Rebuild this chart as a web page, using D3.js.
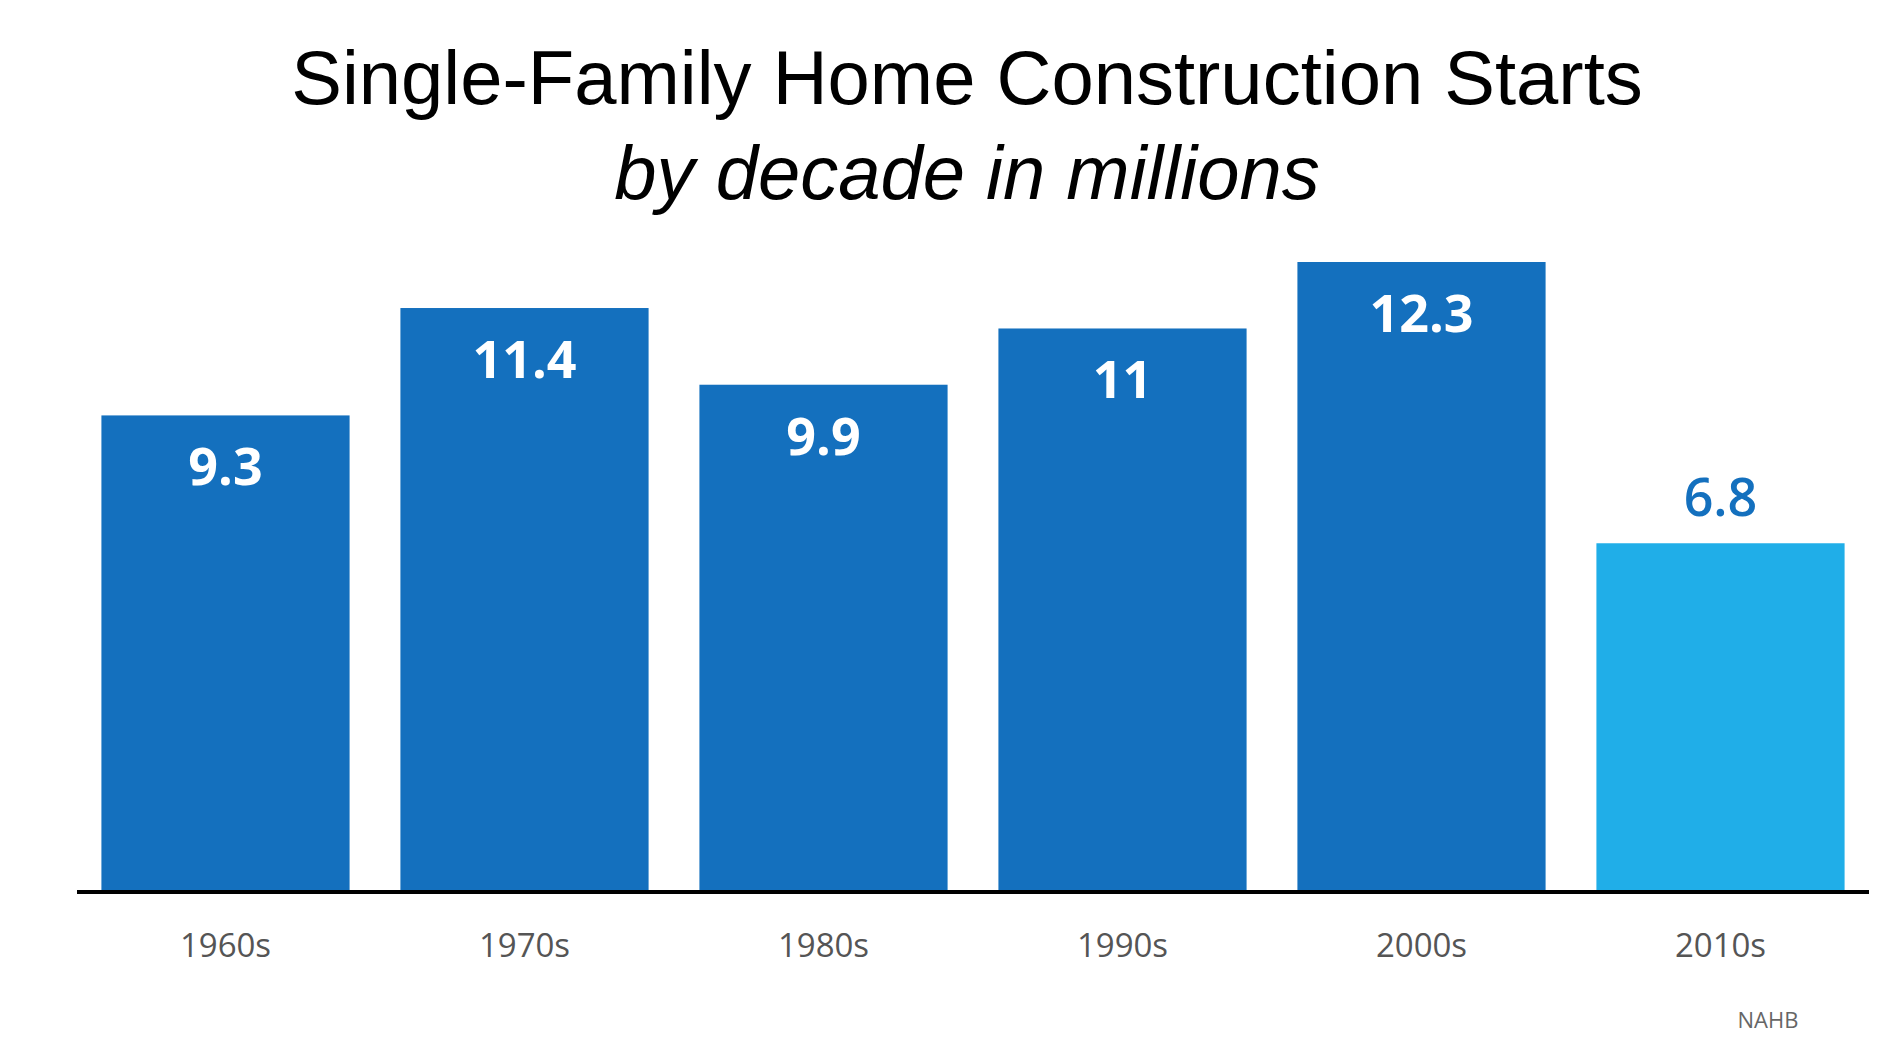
<!DOCTYPE html><html><head><meta charset="utf-8"><script src="https://cdn.jsdelivr.net/npm/d3@7"></script>
<style>body{margin:0;background:#fff}</style></head><body><svg id="c" width="1902" height="1046"></svg>
<script>
const categories=["1960s","1970s","1980s","1990s","2000s","2010s"];
const values=[9.3,11.4,9.9,11,12.3,6.8];
const labels=["9.3","11.4","9.9","11","12.3","6.8"];
const svg=d3.select("#c");
const x=d3.scaleBand().domain(categories).range([76,1870]).paddingInner(0.17).paddingOuter(0.085);
const y=d3.scaleLinear().domain([0,12.3]).range([891,262]);
svg.append("text").attr("x",967).attr("y",104).attr("text-anchor","middle").attr("font-family","Liberation Sans, Arial").attr("font-size",76).text("Single-Family Home Construction Starts");
svg.append("text").attr("x",967).attr("y",199).attr("text-anchor","middle").attr("font-family","Liberation Sans, Arial").attr("font-style","italic").attr("font-size",76).text("by decade in millions");
svg.selectAll("rect.b").data(values).join("rect").attr("x",(d,i)=>x(categories[i])).attr("width",x.bandwidth()).attr("y",d=>y(d)).attr("height",d=>y(0)-y(d)).attr("fill",(d,i)=>i==5?"#20AEE8":"#1470BE");
svg.selectAll("text.v").data(values).join("text").attr("x",(d,i)=>x(categories[i])+x.bandwidth()/2).attr("y",(d,i)=>i==5?y(d)-27:y(d)+70).attr("text-anchor","middle").attr("font-family","Open Sans, sans-serif").attr("font-weight",(d,i)=>i==5?600:700).attr("font-size",52).attr("fill",(d,i)=>i==5?"#1470BE":"#fff").text((d,i)=>labels[i]);
svg.append("line").attr("x1",77).attr("x2",1869).attr("y1",892).attr("y2",892).attr("stroke","#000").attr("stroke-width",4);
svg.selectAll("text.c").data(categories).join("text").attr("x",d=>x(d)+x.bandwidth()/2).attr("y",957).attr("text-anchor","middle").attr("font-family","Open Sans, sans-serif").attr("font-size",33).attr("fill","#555").text(d=>d);
svg.append("text").attr("x",1768).attr("y",1028).attr("text-anchor","middle").attr("font-family","Open Sans, sans-serif").attr("font-size",22).attr("fill","#666").text("NAHB");
</script></body></html>
